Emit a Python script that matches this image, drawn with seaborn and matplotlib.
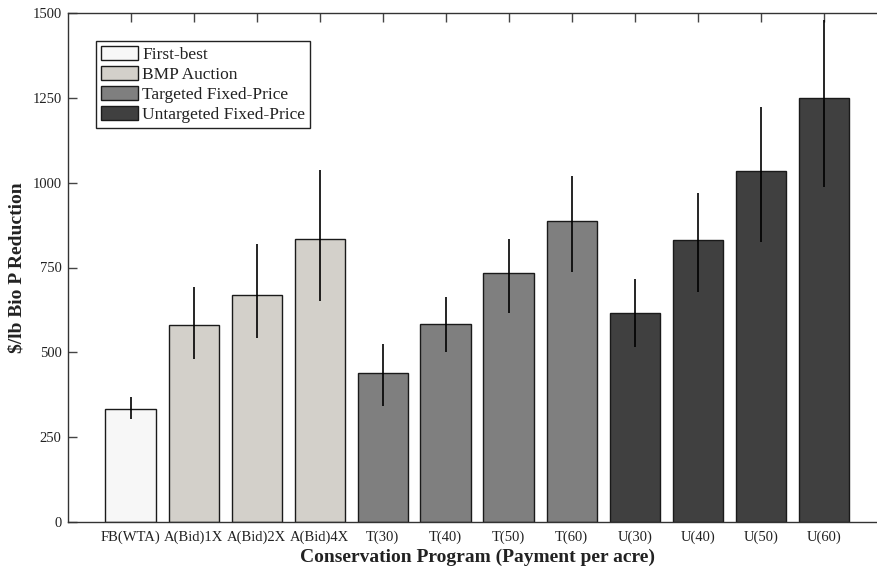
import matplotlib
matplotlib.use("Agg")
import matplotlib.pyplot as plt
import seaborn as sns
import pandas as pd

# ---- data ----
programs = ["FB(WTA)", "A(Bid)1X", "A(Bid)2X", "A(Bid)4X",
            "T(30)", "T(40)", "T(50)", "T(60)",
            "U(30)", "U(40)", "U(50)", "U(60)"]
groups = ["First-best", "BMP Auction", "BMP Auction", "BMP Auction",
          "Targeted Fixed-Price", "Targeted Fixed-Price", "Targeted Fixed-Price", "Targeted Fixed-Price",
          "Untargeted Fixed-Price", "Untargeted Fixed-Price", "Untargeted Fixed-Price", "Untargeted Fixed-Price"]
cost = [334, 580, 670, 835, 440, 584, 733, 887, 617, 831, 1035, 1250]
err_low = [304, 481, 543, 652, 342, 502, 615, 738, 517, 679, 826, 988]
err_high = [367, 694, 818, 1037, 525, 662, 834, 1021, 715, 969, 1224, 1479]
group_order = ["First-best", "BMP Auction", "Targeted Fixed-Price", "Untargeted Fixed-Price"]
group_colors = ["#f7f7f7", "#d4d0c8", "#7f7f7f", "#404040"]
yticks = [0, 250, 500, 750, 1000, 1250, 1500]

df = pd.DataFrame({"program": programs, "group": groups, "cost": cost})

sns.set_theme(style="white")
plt.rcParams["font.family"] = ["Liberation Serif", "DejaVu Serif"]

fig = plt.figure(figsize=(8.78, 5.71), dpi=100)
W, H = 878, 571
ax = fig.add_axes([67.7 / W, 49 / H, 819 / W, 509 / H])

sns.barplot(data=df, x="program", y="cost", hue="group", hue_order=group_order,
            palette=dict(zip(group_order, group_colors)), dodge=False, width=0.8,
            edgecolor="#1a1a1a", linewidth=1.0, errorbar=None, ax=ax)

ax.vlines(programs, err_low, err_high, colors="black", linewidth=1.2, zorder=5)

ax.set_xlim(-1, 12)
ax.set_ylim(0, 1500)
ax.set_yticks(yticks)

for s in ax.spines.values():
    s.set_color("#333333")
    s.set_linewidth(1.0)

ax.tick_params(axis="x", bottom=False, top=True, direction="in", length=6.5,
               width=1, color="#444444", labelsize=10.5, labelcolor="#222222", pad=6)
ax.tick_params(axis="y", left=True, right=True, direction="in", length=6.5,
               width=1, color="#444444", labelsize=10.5, labelcolor="#222222", pad=4.3)

ax.set_xlabel("Conservation Program (Payment per acre)", fontsize=14, fontweight="bold", color="#222222")
ax.set_ylabel("$/lb Bio P Reduction", fontsize=14, fontweight="bold", color="#222222")
ax.xaxis.set_label_coords(0.5, -0.053)
ax.yaxis.set_label_coords(-0.052, 0.5)

handles, labels = ax.get_legend_handles_labels()
leg = ax.legend(handles, labels, loc="upper left",
                bbox_to_anchor=(96 / W, 1 - 41 / H), bbox_transform=fig.transFigure,
                borderaxespad=0, fontsize=12.5, frameon=True, fancybox=False,
                edgecolor="#222222", framealpha=1, handlelength=2.15, handleheight=0.87,
                handletextpad=0.25, labelspacing=0.18, borderpad=0.27)
leg.get_frame().set_linewidth(1.0)
for t in leg.get_texts():
    t.set_color("#222222")

fig.savefig("out.png", dpi=100)
